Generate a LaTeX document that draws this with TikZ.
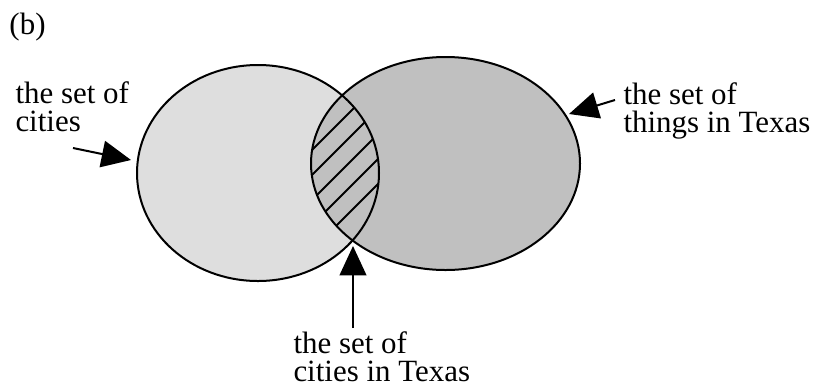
\documentclass[tikz,border=0pt]{standalone}
\usepackage{fontspec}
\setmainfont{Liberation Serif}
\usetikzlibrary{arrows.meta}
\definecolor{citygray}{RGB}{222,222,222}
\definecolor{texasgray}{RGB}{192,192,192}
\tikzset{every picture/.style={line width=0.75pt}}

\begin{document}
\begin{tikzpicture}[x=0.75pt,y=0.75pt,yscale=-1,xscale=1,
    labeltext/.style={anchor=north west,inner sep=0pt,align=left,font=\fontsize{23.2}{21.5}\selectfont},
    pointer/.style={line width=1.5pt,-{Triangle[length=22pt,width=20pt]}}]
    \useasboundingbox (0,0) rectangle (820,390);

    %Shape: Ellipse [cities]
    \fill [citygray] (258,173) ellipse [x radius=121,y radius=108];
    %Shape: Ellipse [things in Texas]
    \fill [texasgray] (445.5,163.5) ellipse [x radius=134.5,y radius=106.5];
    % hatching in the overlap
    \begin{scope}
      \clip (258,173) ellipse [x radius=121,y radius=108];
      \clip (445.5,163.5) ellipse [x radius=134.5,y radius=106.5];
      \foreach \c in {462,487,...,562}
        \draw [line width=1.5pt] (250,{\c-250}) -- (420,{\c-420});
    \end{scope}
    %Outlines
    \draw [line width=1.5pt] (258,173) ellipse [x radius=121,y radius=108];
    \draw [line width=1.5pt] (445.5,163.5) ellipse [x radius=134.5,y radius=106.5];

    % Text Node
    \node (panel) [anchor=base west,inner sep=0pt,font=\fontsize{23.2}{21.5}\selectfont] at (9,34) {(b)};
    % Text Node
    \node (citieslabel) [labeltext] at (15,81) {the set of\\cities};
    % Text Node
    \node (texaslabel) [labeltext] at (623,82) {the set of\\things in Texas};
    % Text Node
    \node (bothlabel) [labeltext] at (293,331) {the set of\\cities in Texas};

    % Arrows
    \coordinate (citiestail) at (73,148);
    \coordinate (citiestip) at (131,160);
    \coordinate (texastail) at (615,100);
    \coordinate (texastip) at (569,114);
    \coordinate (bothtail) at (353,328);
    \coordinate (bothtip) at (353,246);
    \draw [pointer] (citiestail) -- (citiestip);
    \draw [pointer] (texastail) -- (texastip);
    \draw [pointer] (bothtail) -- (bothtip);

  \end{tikzpicture}
\end{document}
